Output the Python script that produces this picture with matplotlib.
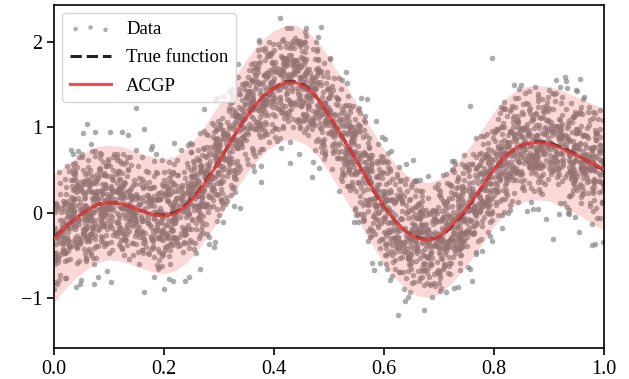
import numpy as np
import matplotlib
matplotlib.use("Agg")
import matplotlib.pyplot as plt

# ---- data ----
x_grid = np.linspace(0.0, 1.0, 51)
true_f = [-0.29, -0.17, -0.06, 0.03, 0.10, 0.12, 0.11, 0.07, 0.02, -0.02,
          -0.03, 0.00, 0.09, 0.23, 0.41, 0.60, 0.82, 1.03, 1.21, 1.36,
          1.46, 1.53, 1.53, 1.47, 1.33, 1.14, 0.93, 0.72, 0.50, 0.27,
          0.07, -0.09, -0.22, -0.29, -0.32, -0.28, -0.18, -0.04, 0.13, 0.32,
          0.51, 0.66, 0.76, 0.81, 0.83, 0.82, 0.77, 0.71, 0.64, 0.57, 0.50]
acgp_mean = [-0.30, -0.17, -0.06, 0.03, 0.10, 0.12, 0.11, 0.07, 0.02, -0.02,
             -0.04, -0.01, 0.08, 0.22, 0.40, 0.60, 0.82, 1.03, 1.21, 1.36,
             1.46, 1.52, 1.52, 1.46, 1.33, 1.14, 0.93, 0.72, 0.50, 0.28,
             0.07, -0.09, -0.22, -0.30, -0.32, -0.28, -0.17, -0.03, 0.14, 0.32,
             0.51, 0.66, 0.76, 0.81, 0.82, 0.81, 0.76, 0.70, 0.64, 0.57, 0.51]
band_half = [0.75, 0.72, 0.70, 0.69, 0.68, 0.67, 0.67, 0.67, 0.67, 0.67,
             0.67, 0.67, 0.67, 0.67, 0.67, 0.67, 0.67, 0.67, 0.67, 0.67,
             0.67, 0.67, 0.67, 0.67, 0.67, 0.67, 0.67, 0.67, 0.67, 0.67,
             0.67, 0.67, 0.67, 0.67, 0.67, 0.67, 0.67, 0.67, 0.67, 0.67,
             0.67, 0.67, 0.67, 0.67, 0.67, 0.67, 0.68, 0.68, 0.69, 0.70, 0.71]
n_data = 3500
noise_sd = 0.33

x_ticks = [0.0, 0.2, 0.4, 0.6, 0.8, 1.0]
y_ticks = [-1, 0, 1, 2]

# noisy observations scattered around the true function (noise cloud)
rng = np.random.default_rng(3)
x_data = rng.uniform(0.0, 1.0, n_data)
y_data = np.interp(x_data, x_grid, true_f) + rng.normal(0.0, noise_sd, n_data)

plt.rcParams['font.family'] = ['Liberation Serif', 'DejaVu Serif']
plt.rcParams['mathtext.fontset'] = 'stix'

fig = plt.figure(figsize=(6.29, 3.79), dpi=100)
ax = fig.add_axes([0.0859, 0.0818, 0.8744, 0.9052])

red = '#e8403f'
ax.scatter(x_data, y_data, s=16, color='#808080', alpha=0.65, linewidths=0,
           label='Data', zorder=1)
lo = np.array(acgp_mean) - np.array(band_half)
hi = np.array(acgp_mean) + np.array(band_half)
ax.fill_between(x_grid, lo, hi, color=red, alpha=0.2, linewidth=0, zorder=2)
ax.plot(x_grid, true_f, '--', color='#222222', lw=2.2, label='True function', zorder=3)
ax.plot(x_grid, acgp_mean, '-', color=red, lw=2.2, alpha=0.9, label='ACGP', zorder=4)

ax.set_xlim(0.0, 1.0)
ax.set_ylim(-1.58, 2.43)
ax.set_xticks(x_ticks)
ax.set_xticklabels([f'{t:.1f}' for t in x_ticks])
ax.set_yticks(y_ticks)
ax.tick_params(labelsize=14.5, length=5, width=1.2)
for s in ax.spines.values():
    s.set_linewidth(1.2)

leg = ax.legend(loc='upper left', fontsize=13.5, markerscale=0.8,
                scatterpoints=3, handlelength=2.2, borderaxespad=0.45,
                labelspacing=0.6)

fig.savefig('out.png', dpi=100)
